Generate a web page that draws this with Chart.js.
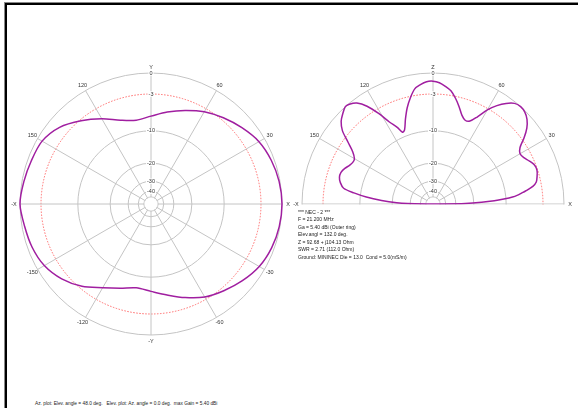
<!DOCTYPE html>
<html><head><meta charset="utf-8">
<script src="https://cdn.jsdelivr.net/npm/chart.js@4/dist/chart.umd.min.js"></script>
<style>
html,body{margin:0;padding:0;background:#fff;width:578px;height:408px;overflow:hidden;font-family:Arial,"Liberation Sans",sans-serif;}
#frame{position:absolute;left:5px;top:3px;width:700px;height:600px;border-left:2px solid #000;border-top:2px solid #000;box-shadow:-1px -1px 0 #888;}
canvas{position:absolute;}
#az{left:6px;top:59px;}
#el{left:288px;top:59px;}
#info{position:absolute;left:298px;top:209px;font-size:5px;line-height:7.45px;color:#222;white-space:pre;z-index:2;}
#foot{position:absolute;left:35px;top:401px;font-size:4.8px;line-height:6px;color:#222;white-space:pre;}
</style></head>
<body>
<div id="frame"></div>
<canvas id="az" width="290" height="290"></canvas>
<canvas id="el" width="290" height="290"></canvas>
<div id="info"></div>
<div id="foot"></div>
<script>
// ---- data (dB relative to outer ring = 0 dB) ----
const azAngles = [0,10,20,30,40,50,60,70,80,90,100,110,120,130,140,150,160,170,180,190,200,210,220,230,240,250,260,270,280,290,300,310,320,330,340,350];
const azGain   = [0,-0.12,-0.4,-0.85,-1.7,-2.6,-3.55,-4.7,-5.8,-6.85,-7.4,-6.6,-4.9,-3.2,-1.6,-0.7,-0.5,-0.25,0,-0.35,-0.6,-1.05,-2.0,-3.4,-5.2,-6.5,-7.4,-6.95,-6.0,-4.7,-3.4,-2.5,-1.6,-0.8,-0.35,-0.1];

const elAngles = [0,1,2,3,4,5,6,7,8,10,12,15,18,21,24,27,30,33,36,39,42,45,48,51,54,57,60,63,66,69,72,75,78,81,84,87,90,93,96,99,102,105,108,111,113,115,118,121,124,127,130,132,135,138,141,144,147,150,152,155,158,161,164,167,170,172,174,176,178,179,180];
const elGain   = [-60,-24,-17,-13,-10.5,-8.5,-7.4,-6.6,-5.8,-4.4,-3.7,-3.35,-3.1,-3.2,-3.7,-4.3,-4.55,-4.0,-2.6,-1.4,-0.6,-0.15,0,-0.2,-0.9,-1.9,-3.2,-5.0,-6.3,-6.5,-5.8,-4.5,-3.3,-2.3,-1.75,-1.3,-1.1,-1.15,-1.5,-2.0,-3.2,-4.7,-6.6,-8.6,-8.9,-7.5,-5.9,-3.7,-1.8,-0.6,-0.1,0,-0.45,-1.0,-2.0,-3.8,-5.4,-6.3,-6.4,-6.1,-5.5,-5.1,-5.1,-5.5,-6.3,-8.5,-11.5,-16,-22,-28,-60];

const ringDb     = [-50,-40,-30,-20,-10,-3,0];
const ringLabels = ['','-40','-30','-20','-10','-3','0'];

const azTickAngles = [0,30,60,90,120,150,180,210,240,270,300,330];
const azTickLabels = ['X','30','60','Y','120','150','-X','-150','-120','-Y','-60','-30'];
const elTickAngles = [0,30,60,90,120,150,180];
const elTickLabels = ['X','30','60','Z','120','150','-X'];

const infoLines = ['*** NEC - 2 ***','F = 21.200 MHz','Ga = 5.40 dBi (Outer ring)','Elev.angl = 132.0 deg.','Z = 92.68 + j104.13 Ohm','SWR = 2.71 (112.0 Ohm)','Ground: MININEC Die = 13.0  Cond = 5.0(mS/m)'];
const footText = 'Az. plot: Elev. angle = 48.0 deg.   Elev. plot: Az. angle = 0.0 deg.  max Gain = 5.40 dBi';

document.getElementById('info').textContent = infoLines.join('\n');
document.getElementById('foot').textContent = footText;

// ARRL log scale
const rho = db => Math.pow(0.89, -db / 2);
const idx = a => (((90 - a) % 360) + 360) % 360;

function makeChart(id, angles, gains, tickAngles, tickLabels, half) {
  const labels = Array.from({length: 360}, (_, i) => i);
  const data = new Array(360).fill(null);
  angles.forEach((a, k) => { data[idx(a)] = rho(gains[k]); });
  const minus3 = ringDb.indexOf(-3) + 1;
  const plugin = {
    id: 'polarDeco',
    beforeDraw(chart) {
      if (!half) return;
      const s = chart.scales.r, ctx = chart.ctx;
      ctx.save();
      ctx.beginPath();
      ctx.rect(0, 0, chart.width, s.yCenter + 0.6);
      ctx.clip();
    },
    beforeDatasetsDraw(chart) {
      const s = chart.scales.r, ctx = chart.ctx;
      const r = s.getDistanceFromCenterForValue(rho(ringDb[0]));
      ctx.save();
      ctx.fillStyle = '#fff';
      ctx.beginPath();
      ctx.arc(s.xCenter, s.yCenter, r - 0.6, 0, Math.PI * 2);
      ctx.fill();
      ctx.restore();
    },
    afterDraw(chart) {
      const s = chart.scales.r, ctx = chart.ctx;
      if (half) ctx.restore();
      ctx.save();
      ctx.font = '5.5px Arial, "Liberation Sans", sans-serif';
      ctx.fillStyle = '#333';
      ctx.textAlign = 'center';
      ctx.textBaseline = 'middle';
      tickAngles.forEach((a, k) => {
        const p = s.getPointPosition(idx(a), s.drawingArea + 6);
        ctx.fillText(tickLabels[k], p.x, p.y);
      });
      ctx.restore();
    }
  };
  return new Chart(document.getElementById(id), {
    type: 'radar',
    data: { labels, datasets: [{
      data, spanGaps: true, fill: false,
      borderColor: '#a01ea0', borderWidth: 1.5, tension: 0.3,
      pointRadius: 0, pointHoverRadius: 0
    }]},
    options: {
      responsive: false, animation: false,
      layout: { padding: 11 },
      plugins: { legend: { display: false }, tooltip: { enabled: false } },
      scales: { r: {
        min: 0, max: 1, startAngle: 0,
        afterBuildTicks: sc => { sc.ticks = [{value: 0}].concat(ringDb.map(d => ({value: rho(d)}))); },
        ticks: {
          display: true,
          callback: (v, i) => i === 0 ? '' : ringLabels[i - 1],
          font: { size: 5.5, family: 'Arial, "Liberation Sans", sans-serif' },
          color: '#333',
          backdropColor: '#fff',
          backdropPadding: { x: 1, y: 0 },
          showLabelBackdrop: c => c.index > 0 && ringLabels[c.index - 1] !== ''
        },
        grid: {
          circular: true,
          color: c => c.index === minus3 ? '#ff6a6a' : '#c4c4c4',
          lineWidth: 1
        },
        border: { dash: c => c.index === minus3 ? [1.5, 1.5] : [] },
        angleLines: {
          display: true,
          color: c => {
            const i = c.index;
            if (i % 30 !== 0) return '';
            if (half && i > 90 && i < 270) return '';
            return '#c4c4c4';
          },
          lineWidth: 1
        },
        pointLabels: { display: false }
      }}
    },
    plugins: [plugin]
  });
}

makeChart('az', azAngles, azGain, azTickAngles, azTickLabels, false);
makeChart('el', elAngles, elGain, elTickAngles, elTickLabels, true);
</script>
</body></html>
